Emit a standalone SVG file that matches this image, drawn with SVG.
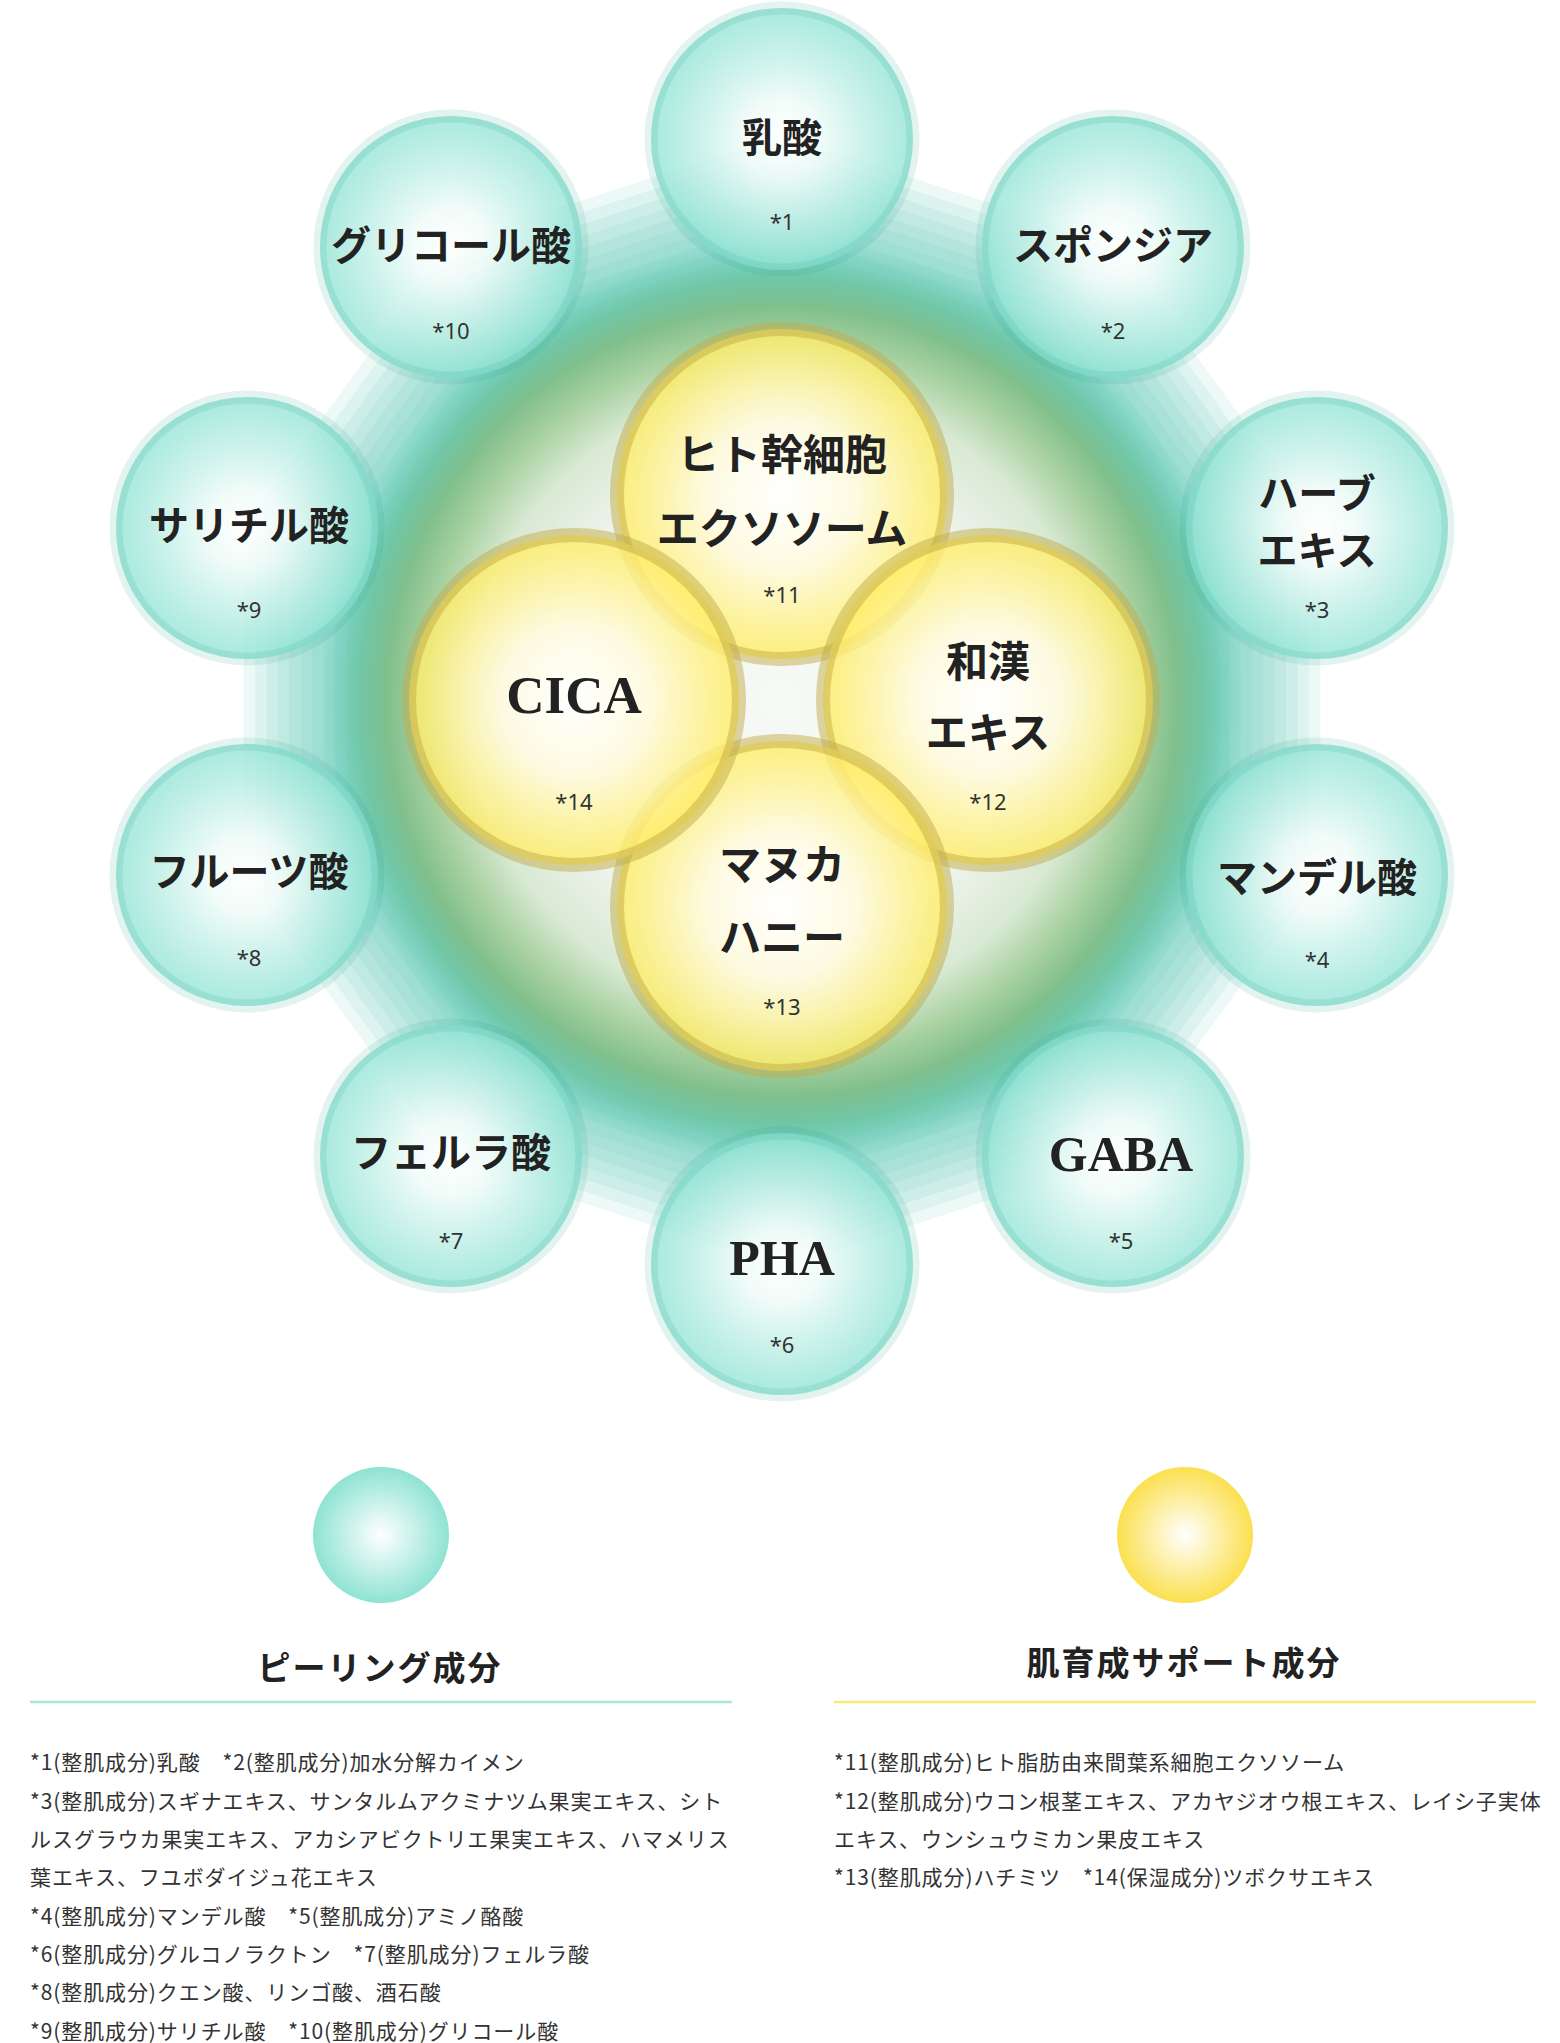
<svg xmlns="http://www.w3.org/2000/svg" width="1560" height="2043" viewBox="0 0 1560 2043">
<style>
.lbl{font-family:"Liberation Serif","Noto Sans CJK JP",serif;font-weight:700;fill:#222;text-anchor:middle}
.jo{font-size:40px}
.ji{font-size:42px}
.lat{font-size:50px}
.fn{font-family:"Noto Sans","Noto Sans CJK JP",sans-serif;font-size:22px;fill:#333;text-anchor:middle}
.oc{fill:url(#gOuter);stroke:#2a9f8a;stroke-opacity:.13;stroke-width:13}
.ic{fill:url(#gInner);stroke:#c2ab4a;stroke-opacity:.5;stroke-width:14}
.dec{fill:#52c9b2;fill-opacity:.1}
.h{font-family:"Noto Sans CJK JP",sans-serif;font-weight:700;font-size:33px;fill:#222;text-anchor:middle;letter-spacing:2px}
.note{font-family:"Noto Sans CJK JP",sans-serif;font-size:21px;fill:#333;letter-spacing:.9px}
</style>
<defs>
<polygon id="deca" points="0,-100 58.78,-80.9 95.11,-30.9 95.11,30.9 58.78,80.9 0,100 -58.78,80.9 -95.11,30.9 -95.11,-30.9 -58.78,-80.9"/>
<radialGradient id="gOuter" cx="0.5" cy="0.5" r="0.5">
<stop offset="0" stop-color="#ffffff" stop-opacity=".95"/>
<stop offset="0.3" stop-color="#effbf8" stop-opacity=".88"/>
<stop offset="1" stop-color="#8fe3d4" stop-opacity=".78"/>
</radialGradient>
<radialGradient id="gInner" cx="0.5" cy="0.5" r="0.5">
<stop offset="0" stop-color="#ffffff" stop-opacity="1"/>
<stop offset="0.45" stop-color="#fffbe0" stop-opacity=".9"/>
<stop offset="1" stop-color="#ffec60" stop-opacity=".8"/>
</radialGradient>
<radialGradient id="gCenter" cx="782" cy="701.5" r="460" gradientUnits="userSpaceOnUse">
<stop offset="0" stop-color="#f6f9f5" stop-opacity="1"/>
<stop offset="0.5" stop-color="#f0f5ee" stop-opacity="1"/>
<stop offset="0.68" stop-color="#d9e9d4" stop-opacity="1"/>
<stop offset="0.78" stop-color="#a8d1a0" stop-opacity="1"/>
<stop offset="0.86" stop-color="#80bf8c" stop-opacity="1"/>
<stop offset="0.92" stop-color="#6ec39f" stop-opacity=".8"/>
<stop offset="1" stop-color="#5fcdb5" stop-opacity="0"/>
</radialGradient>
<radialGradient id="gLegT" cx="0.5" cy="0.5" r="0.5">
<stop offset="0" stop-color="#ffffff"/>
<stop offset="1" stop-color="#8ee3d3"/>
</radialGradient>
<radialGradient id="gLegY" cx="0.5" cy="0.5" r="0.5">
<stop offset="0" stop-color="#ffffff"/>
<stop offset="1" stop-color="#fbe04f"/>
</radialGradient>
</defs>
<rect width="1560" height="2043" fill="#ffffff"/>
<g id="background">
<use href="#deca" class="dec" transform="translate(782 701.5) scale(5.66)"/>
<use href="#deca" class="dec" transform="translate(782 701.5) scale(5.54)"/>
<use href="#deca" class="dec" transform="translate(782 701.5) scale(5.42)"/>
<use href="#deca" class="dec" transform="translate(782 701.5) scale(5.30)"/>
<use href="#deca" class="dec" transform="translate(782 701.5) scale(5.18)"/>
<use href="#deca" class="dec" transform="translate(782 701.5) scale(5.06)"/>
<use href="#deca" class="dec" transform="translate(782 701.5) scale(4.94)"/>
<use href="#deca" class="dec" transform="translate(782 701.5) scale(4.82)"/>
<use href="#deca" class="dec" transform="translate(782 701.5) scale(4.70)"/>
<use href="#deca" class="dec" transform="translate(782 701.5) scale(4.58)"/>
<use href="#deca" class="dec" transform="translate(782 701.5) scale(4.46)"/>
<use href="#deca" class="dec" transform="translate(782 701.5) scale(4.34)"/>
<use href="#deca" class="dec" transform="translate(782 701.5) scale(4.22)"/>
<use href="#deca" class="dec" transform="translate(782 701.5) scale(4.10)"/>
<circle cx="782" cy="701.5" r="460" fill="url(#gCenter)"/>
</g>
<g id="outer-nodes">
<g id="n-nyusan"><circle class="oc" cx="782" cy="139" r="131"/><text class="lbl jo" x="782" y="152">乳酸</text><text class="fn" x="782" y="230">*1</text></g>
<g id="n-spongia"><circle class="oc" cx="1113" cy="247" r="131"/><text class="lbl jo" x="1113" y="260">スポンジア</text><text class="fn" x="1113" y="339">*2</text></g>
<g id="n-herb"><circle class="oc" cx="1317" cy="528" r="131"/><text class="lbl jo" x="1317" y="508">ハーブ</text><text class="lbl jo" x="1317" y="565">エキス</text><text class="fn" x="1317" y="618">*3</text></g>
<g id="n-mandel"><circle class="oc" cx="1317" cy="875" r="131"/><text class="lbl jo" x="1317" y="892">マンデル酸</text><text class="fn" x="1317" y="968">*4</text></g>
<g id="n-gaba"><circle class="oc" cx="1113" cy="1156" r="131"/><text class="lbl lat" x="1121" y="1171">GABA</text><text class="fn" x="1121" y="1249">*5</text></g>
<g id="n-pha"><circle class="oc" cx="782" cy="1264" r="131"/><text class="lbl lat" x="782" y="1275">PHA</text><text class="fn" x="782" y="1353">*6</text></g>
<g id="n-ferula"><circle class="oc" cx="451" cy="1156" r="131"/><text class="lbl jo" x="451" y="1167">フェルラ酸</text><text class="fn" x="451" y="1249">*7</text></g>
<g id="n-fruit"><circle class="oc" cx="247" cy="875" r="131"/><text class="lbl jo" x="249" y="886">フルーツ酸</text><text class="fn" x="249" y="966">*8</text></g>
<g id="n-salicyl"><circle class="oc" cx="247" cy="528" r="131"/><text class="lbl jo" x="249" y="540">サリチル酸</text><text class="fn" x="249" y="618">*9</text></g>
<g id="n-glycol"><circle class="oc" cx="451" cy="247" r="131"/><text class="lbl jo" x="451" y="260">グリコール酸</text><text class="fn" x="451" y="339">*10</text></g>
</g>
<g id="inner-nodes">
<g id="n-exosome"><circle class="ic" cx="782" cy="494" r="165"/><text class="lbl ji" x="782" y="470">ヒト幹細胞</text><text class="lbl ji" x="782" y="544">エクソソーム</text><text class="fn" x="782" y="603">*11</text></g>
<g id="n-wakan"><circle class="ic" cx="988" cy="700" r="165"/><text class="lbl ji" x="988" y="677">和漢</text><text class="lbl ji" x="988" y="748">エキス</text><text class="fn" x="988" y="810">*12</text></g>
<g id="n-manuka"><circle class="ic" cx="782" cy="906" r="165"/><text class="lbl ji" x="782" y="880">マヌカ</text><text class="lbl ji" x="782" y="953">ハニー</text><text class="fn" x="782" y="1015">*13</text></g>
<g id="n-cica"><circle class="ic" cx="574" cy="700" r="165"/><text class="lbl" style="font-size:53px" x="574" y="713">CICA</text><text class="fn" x="574" y="810">*14</text></g>
</g>
<g id="legend-peeling">
<circle cx="381" cy="1535" r="68" fill="url(#gLegT)"/>
<text class="h" x="380" y="1680">ピーリング成分</text>
<line x1="30" y1="1702" x2="732" y2="1702" stroke="#a8e6da" stroke-width="2.5"/>
<text class="note" x="30" y="1770">*1(整肌成分)乳酸　*2(整肌成分)加水分解カイメン</text>
<text class="note" x="30" y="1809">*3(整肌成分)スギナエキス、サンタルムアクミナツム果実エキス、シト</text>
<text class="note" x="30" y="1847">ルスグラウカ果実エキス、アカシアビクトリエ果実エキス、ハマメリス</text>
<text class="note" x="30" y="1885">葉エキス、フユボダイジュ花エキス</text>
<text class="note" x="30" y="1924">*4(整肌成分)マンデル酸　*5(整肌成分)アミノ酪酸</text>
<text class="note" x="30" y="1962">*6(整肌成分)グルコノラクトン　*7(整肌成分)フェルラ酸</text>
<text class="note" x="30" y="2000">*8(整肌成分)クエン酸、リンゴ酸、酒石酸</text>
<text class="note" x="30" y="2039">*9(整肌成分)サリチル酸　*10(整肌成分)グリコール酸</text>
</g>
<g id="legend-support">
<circle cx="1185" cy="1535" r="68" fill="url(#gLegY)"/>
<text class="h" x="1184" y="1675">肌育成サポート成分</text>
<line x1="834" y1="1702" x2="1536" y2="1702" stroke="#f5e97a" stroke-width="2.5"/>
<text class="note" x="834" y="1770">*11(整肌成分)ヒト脂肪由来間葉系細胞エクソソーム</text>
<text class="note" x="834" y="1809">*12(整肌成分)ウコン根茎エキス、アカヤジオウ根エキス、レイシ子実体</text>
<text class="note" x="834" y="1847">エキス、ウンシュウミカン果皮エキス</text>
<text class="note" x="834" y="1885">*13(整肌成分)ハチミツ　*14(保湿成分)ツボクサエキス</text>
</g>
</svg>
